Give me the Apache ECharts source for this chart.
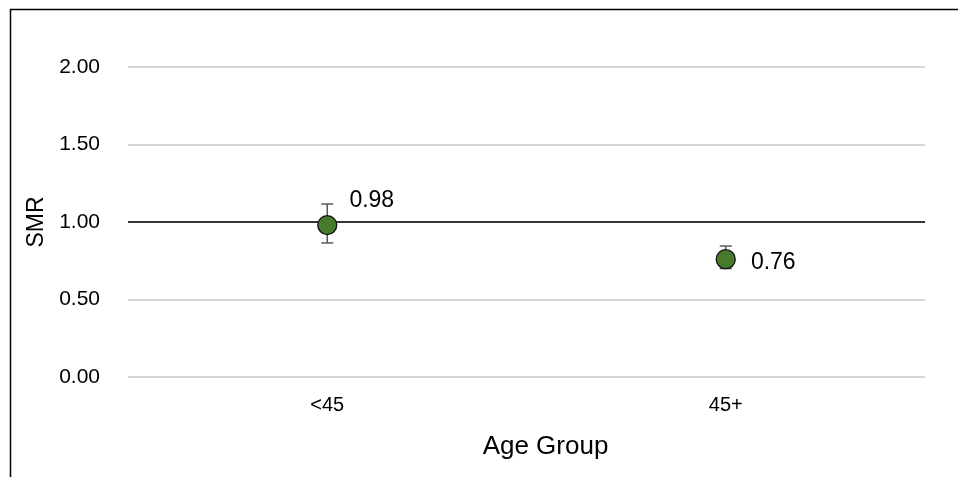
<!DOCTYPE html>
<html><head><meta charset="utf-8">
<script src="https://cdn.jsdelivr.net/npm/echarts@6/dist/echarts.min.js"></script>
<style>html,body{margin:0;padding:0;background:#fff}#c{width:958px;height:477px}</style>
</head><body><div id="c"></div>
<script>
const categories = ['<45', '45+'];
const smr = [0.98, 0.76];
const lower = [0.865, 0.70];
const upper = [1.116, 0.845];
const yTicks = [0, 0.5, 1.0, 1.5, 2.0];

const chart = echarts.init(document.getElementById('c'));
const font = '"Liberation Sans", Arial, sans-serif';
chart.setOption({
  animation: false,
  graphic: [{type: 'rect', shape: {x: 10.5, y: 9.5, width: 1000, height: 1000}, style: {fill: 'none', stroke: '#000', lineWidth: 1.5}, z: 100}],
  grid: {left: 128, right: 33, top: 67, bottom: 100},
  xAxis: {
    type: 'category', data: categories, boundaryGap: true,
    axisLine: {show: false}, axisTick: {show: false},
    axisLabel: {fontFamily: font, fontSize: 20, color: '#000', margin: 18},
    name: 'Age Group', nameLocation: 'middle', nameGap: 57,
    nameTextStyle: {fontFamily: font, fontSize: 26, color: '#000', padding: [0, 0, 0, 38]}
  },
  yAxis: {
    type: 'value', min: 0, max: 2, interval: 0.5,
    axisLine: {show: false}, axisTick: {show: false},
    splitLine: {lineStyle: {color: '#c9c9c9', width: 1.5}},
    axisLabel: {fontFamily: font, fontSize: 21, color: '#000', margin: 28, formatter: v => v.toFixed(2)},
    name: 'SMR', nameLocation: 'middle', nameGap: 80,
    nameTextStyle: {fontFamily: font, fontSize: 23, color: '#000'}
  },
  series: [
    {
      type: 'custom',
      data: categories.map((c, i) => [i, lower[i], upper[i]]),
      renderItem: (params, api) => {
        const lo = api.coord([api.value(0), api.value(1)]);
        const hi = api.coord([api.value(0), api.value(2)]);
        const w = 6;
        const st = {stroke: '#5a5a5a', lineWidth: 1.5};
        return {type: 'group', children: [
          {type: 'line', shape: {x1: lo[0], y1: lo[1], x2: hi[0], y2: hi[1]}, style: st},
          {type: 'line', shape: {x1: lo[0]-w, y1: lo[1], x2: lo[0]+w, y2: lo[1]}, style: st},
          {type: 'line', shape: {x1: hi[0]-w, y1: hi[1], x2: hi[0]+w, y2: hi[1]}, style: st}
        ]};
      },
      z: 3
    },
    {
      type: 'scatter',
      data: smr,
      symbol: 'circle', symbolSize: 19,
      itemStyle: {color: '#477a2a', borderColor: '#111', borderWidth: 1.3, opacity: 1},
      label: {show: true, position: 'right', distance: 12, formatter: p => p.value.toFixed(2),
        fontFamily: font, fontSize: 23, color: '#000'},
      labelLayout: (p) => (p.dataIndex === 0 ? {dy: -24} : {dx: 3, dy: 3}),
      markLine: {silent: true, symbol: 'none', label: {show: false},
        lineStyle: {color: '#000', width: 1.5, type: 'solid'}, data: [{yAxis: 1}]},
      z: 5
    }
  ]
});
</script></body></html>
